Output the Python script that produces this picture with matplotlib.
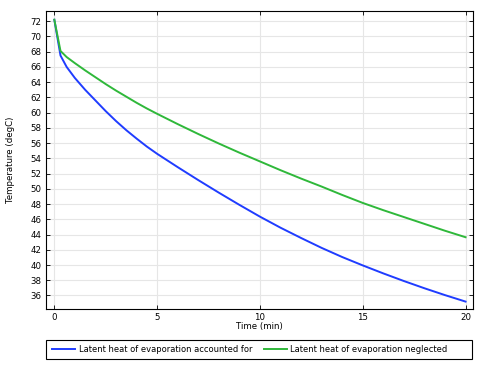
import numpy as np
import matplotlib
matplotlib.use("Agg")
import matplotlib.pyplot as plt
from matplotlib.patches import Rectangle

# time (min) and temperature (degC)
t = [0, 0.3, 0.6, 1, 1.5, 2, 2.5, 3, 3.5, 4, 4.5, 5, 6, 7, 8, 9, 10,
     11, 12, 13, 14, 15, 16, 17, 18, 19, 20]
temp_blue = [72.2, 67.5, 66.0, 64.55, 63.0, 61.6, 60.2, 58.9, 57.7, 56.6, 55.55, 54.6,
             52.85, 51.15, 49.5, 47.9, 46.35, 44.9, 43.55, 42.25, 41.05, 39.95,
             38.9, 37.9, 36.95, 36.05, 35.2]
temp_green = [72.2, 68.1, 67.3, 66.5, 65.55, 64.65, 63.75, 62.9, 62.1, 61.3, 60.55, 59.85,
              58.5, 57.2, 55.95, 54.75, 53.6, 52.45, 51.35, 50.3, 49.2, 48.15,
              47.2, 46.3, 45.4, 44.5, 43.65]

labels = ["Latent heat of evaporation accounted for", "Latent heat of evaporation neglected"]

fig = plt.figure(figsize=(4.79, 3.66), dpi=100)
ax = fig.add_axes([0.0954, 0.156, 0.892, 0.814])

ax.plot(t, temp_blue, color="#1f3cff", lw=1.4, label=labels[0])
ax.plot(t, temp_green, color="#2fb83a", lw=1.4, label=labels[1])

ax.set_xlim(-0.42, 20.36)
ax.set_ylim(34.24, 73.35)
ax.set_xticks([0, 5, 10, 15, 20])
ax.set_yticks(np.arange(36, 73, 2))
ax.grid(True, color="#e6e6e6", lw=0.8)
ax.tick_params(direction="in", top=True, right=True, labelsize=6.2, length=3, width=0.6, pad=3)
for s in ax.spines.values():
    s.set_linewidth(0.8)
ax.set_xlabel("Time (min)", fontsize=6.2, labelpad=0)
ax.set_ylabel("Temperature (degC)", fontsize=6.2, labelpad=11)

# legend below the axes, frame drawn separately
fig.legend(loc="center left", bbox_to_anchor=(52 / 479, 1 - 349.5 / 366),
           ncol=2, fontsize=6, frameon=False, handlelength=2.76,
           handletextpad=0.48, columnspacing=1.32, borderpad=0, borderaxespad=0)
fig.add_artist(Rectangle((46 / 479, 1 - 359 / 366), 426 / 479, 19 / 366,
                         transform=fig.transFigure, fill=False, edgecolor="black", lw=0.8))

fig.savefig("out.png", dpi=100)
